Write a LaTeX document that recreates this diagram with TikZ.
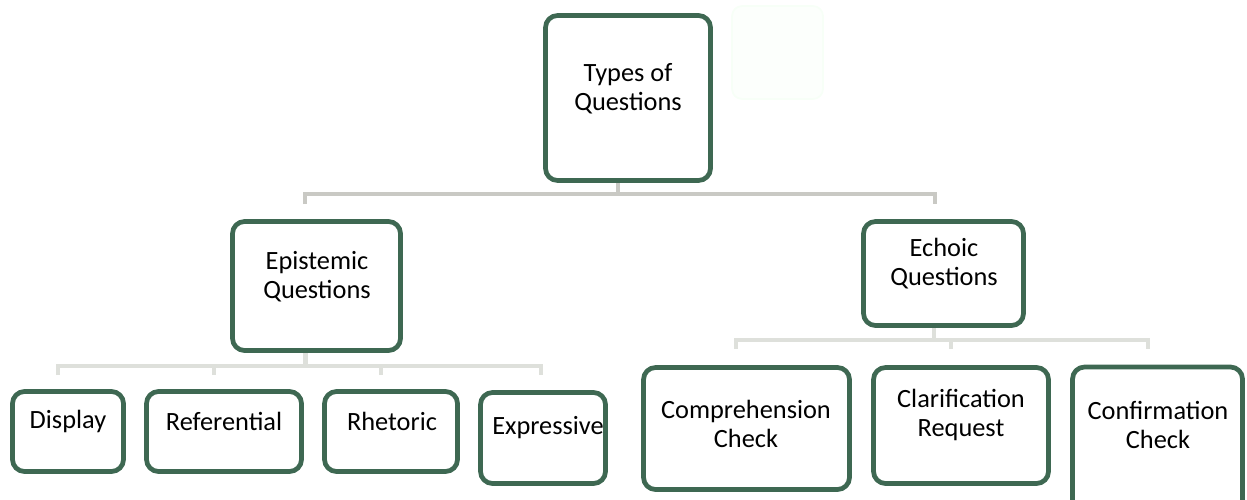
\documentclass[tikz,border=0pt]{standalone}
\usepackage{fontspec}
\setmainfont{Carlito}
\usetikzlibrary{backgrounds}
\definecolor{boxgreen}{RGB}{62,104,82}
\definecolor{buslight}{RGB}{222,224,219}
\definecolor{busgray}{RGB}{201,201,196}
\begin{document}
\begin{tikzpicture}[x=0.02cm, y=-0.02cm, font=\fontsize{15}{16.5}\selectfont, line join=round,
	box/.style={draw=boxgreen, line width=2.7pt, rounded corners=0.24cm, fill=white, inner sep=0pt},
	bus/.style={line width=2.5pt, line cap=butt, buslight},
	txt/.style={align=center, inner sep=0pt}]
	\useasboundingbox (0,0) rectangle (1247,500);
	\draw[draw=green!3!white, fill=green!1!white, line width=1pt, rounded corners=0.2cm] (732,6) rectangle (823,99);
	\node[box, minimum width=3.3cm, minimum height=3.3cm] (tq) at (628,98) {};
	\node[box, minimum width=3.36cm, minimum height=2.58cm] (ep) at (316.5,286) {};
	\node[box, minimum width=3.2cm, minimum height=2.08cm] (ec) at (943.5,273.5) {};
	\node[box, minimum width=2.22cm, minimum height=1.6cm] (di) at (68,431.5) {};
	\node[box, minimum width=3.1cm, minimum height=1.6cm] (re) at (224,431.5) {};
	\node[box, minimum width=2.66cm, minimum height=1.6cm] (rh) at (391,431.5) {};
	\node[box, minimum width=2.5cm, minimum height=1.82cm] (ex) at (543,438) {};
	\node[box, minimum width=4.12cm, minimum height=2.44cm] (co) at (746.5,428.5) {};
	\node[box, minimum width=3.5cm, minimum height=2.32cm] (cl) at (961,425.5) {};
	\node[box, minimum width=3.4cm, minimum height=3.02cm] (cf) at (1157.5,442.5) {};
	\node[txt] (tqt) at (628,88.5) {Types of\\Questions};
	\node[txt] (ept) at (317,277) {Epistemic\\Questions};
	\node[txt] (ect) at (944,263.5) {Echoic\\Questions};
	\node[txt] (dit) at (68,421) {Display};
	\node[txt] (ret) at (224,421) {Referential};
	\node[txt] (rht) at (392,421) {Rhetoric};
	\node[txt] (ext) at (548,428) {Expressive};
	\node[txt] (cot) at (746,423.5) {Comprehension\\Check};
	\node[txt] (clt) at (961,414.5) {Clarification\\Request};
	\node[txt] (cft) at (1158,425) {Confirmation\\Check};
	\coordinate (b0) at (618,194);
	\coordinate (b0l) at (305,204);
	\coordinate (b0r) at (935,204);
	\coordinate (b1) at (305.6,366);
	\coordinate (d1a) at (58,375);
	\coordinate (d1b) at (214,375);
	\coordinate (d1c) at (381,375);
	\coordinate (d1d) at (541,375);
	\coordinate (b2) at (934,340);
	\coordinate (d2a) at (736,349);
	\coordinate (d2b) at (951,349);
	\coordinate (d2c) at (1148,349);
	\begin{pgfonlayer}{background}
		\draw[bus, busgray] (tq.south -| b0) -- (b0);
		\draw[bus, busgray] (b0l) |- (b0) -| (b0r);
		\draw[bus] (ep.south -| b1) -- (b1);
		\draw[bus] (d1a) |- (b1) -| (d1d);
		\draw[bus] (d1b) -- (d1b |- b1);
		\draw[bus] (d1c) -- (d1c |- b1);
		\draw[bus] (ec.south -| b2) -- (b2);
		\draw[bus] (d2a) |- (b2) -| (d2c);
		\draw[bus] (d2b) -- (d2b |- b2);
	\end{pgfonlayer}
\end{tikzpicture}
\end{document}
